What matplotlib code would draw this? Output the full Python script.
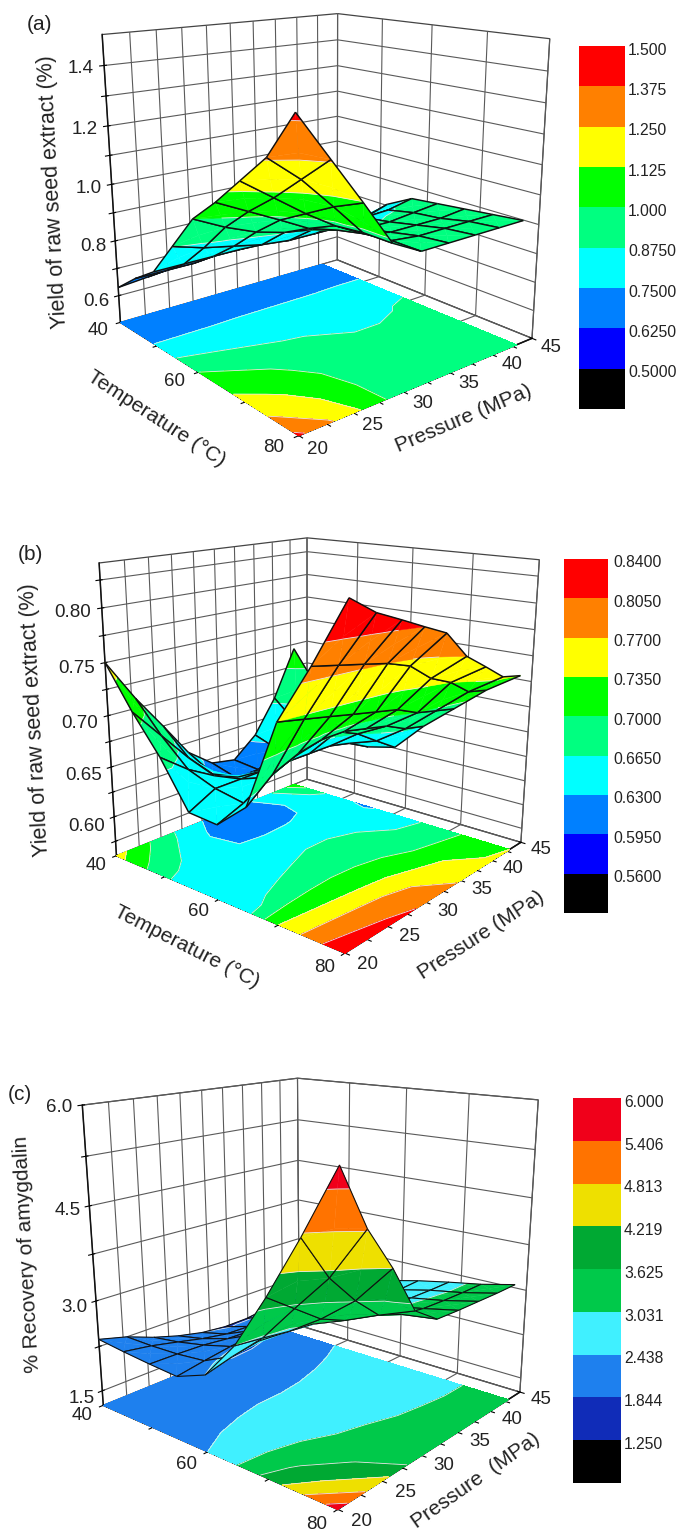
import numpy as np
import matplotlib
matplotlib.use('Agg')
import matplotlib.pyplot as plt
from mpl_toolkits.mplot3d import Axes3D
from mpl_toolkits.mplot3d.art3d import Poly3DCollection, Line3DCollection

plt.rcParams['font.family'] = ['Liberation Sans', 'DejaVu Sans']

temperature = [40, 45, 50, 55, 60, 65, 70, 75, 80]
pressure = [20, 22.9, 25.8, 28.6, 31.5, 34.4, 37.3, 40.1, 43]

# rows are temperature, columns are pressure
yield_a = [
    [0.63, 0.64, 0.65, 0.66, 0.67, 0.68, 0.69, 0.70, 0.70],
    [0.70, 0.70, 0.70, 0.71, 0.71, 0.71, 0.71, 0.72, 0.72],
    [0.76, 0.76, 0.76, 0.76, 0.76, 0.76, 0.76, 0.76, 0.76],
    [0.88, 0.85, 0.83, 0.81, 0.80, 0.80, 0.80, 0.81, 0.84],
    [1.00, 0.95, 0.91, 0.885, 0.87, 0.865, 0.865, 0.87, 0.89],
    [1.08, 1.03, 0.98, 0.93, 0.90, 0.88, 0.88, 0.89, 0.90],
    [1.17, 1.10, 1.03, 0.97, 0.92, 0.90, 0.90, 0.90, 0.91],
    [1.26, 1.18, 1.08, 0.98, 0.93, 0.92, 0.92, 0.92, 0.92],
    [1.40, 1.26, 1.12, 0.98, 0.93, 0.93, 0.93, 0.93, 0.93],
]
yield_b = [
    [0.750, 0.710, 0.675, 0.640, 0.620, 0.615, 0.635, 0.670, 0.720],
    [0.710, 0.680, 0.650, 0.625, 0.612, 0.612, 0.625, 0.645, 0.680],
    [0.675, 0.655, 0.640, 0.630, 0.628, 0.629, 0.632, 0.635, 0.632],
    [0.632, 0.645, 0.645, 0.645, 0.645, 0.645, 0.645, 0.640, 0.628],
    [0.630, 0.640, 0.655, 0.665, 0.675, 0.675, 0.665, 0.650, 0.635],
    [0.655, 0.675, 0.685, 0.690, 0.690, 0.685, 0.680, 0.670, 0.665],
    [0.735, 0.730, 0.725, 0.720, 0.715, 0.710, 0.700, 0.695, 0.690],
    [0.785, 0.780, 0.775, 0.770, 0.762, 0.745, 0.735, 0.720, 0.715],
    [0.840, 0.825, 0.815, 0.805, 0.795, 0.770, 0.755, 0.740, 0.735],
]
recovery_c = [
    [2.37, 2.25, 2.08, 1.95, 1.85, 1.80, 1.80, 1.85, 1.95],
    [2.32, 2.25, 2.15, 2.05, 1.97, 1.95, 2.00, 2.08, 2.20],
    [2.28, 2.27, 2.25, 2.20, 2.18, 2.20, 2.28, 2.36, 2.44],
    [2.25, 2.32, 2.38, 2.42, 2.42, 2.45, 2.50, 2.55, 2.60],
    [2.44, 2.55, 2.62, 2.66, 2.68, 2.70, 2.72, 2.74, 2.76],
    [3.03, 2.98, 2.92, 2.88, 2.86, 2.85, 2.85, 2.86, 2.88],
    [3.85, 3.55, 3.25, 3.08, 3.03, 3.00, 2.99, 2.98, 2.98],
    [4.75, 4.10, 3.65, 3.30, 3.16, 3.10, 3.08, 3.07, 3.07],
    [5.72, 4.85, 4.22, 3.50, 3.23, 3.21, 3.20, 3.19, 3.19],
]

levels_a = [0.5, 0.625, 0.75, 0.875, 1.0, 1.125, 1.25, 1.375, 1.5]
levels_b = [0.56, 0.595, 0.63, 0.665, 0.70, 0.735, 0.77, 0.805, 0.84]
levels_c = [1.25, 1.844, 2.438, 3.031, 3.625, 4.219, 4.813, 5.406, 6.0]

bar_labels_a = ['1.500', '1.375', '1.250', '1.125', '1.000', '0.8750', '0.7500', '0.6250', '0.5000']
bar_labels_b = ['0.8400', '0.8050', '0.7700', '0.7350', '0.7000', '0.6650', '0.6300', '0.5950', '0.5600']
bar_labels_c = ['6.000', '5.406', '4.813', '4.219', '3.625', '3.031', '2.438', '1.844', '1.250']

# low to high, first one is the black box below the lowest level
colors_ab = ['#000000', '#0000ff', '#0080ff', '#00ffff', '#00ff80', '#00ff00', '#ffff00', '#ff8000', '#ff0000']
colors_c = ['#000000', '#102cb8', '#1e80ee', '#40f0ff', '#00c94a', '#00a933', '#eee000', '#ff7300', '#f0001a']

ztick_a = [0.6, 0.7, 0.8, 0.9, 1.0, 1.1, 1.2, 1.3, 1.4]
ztext_a = ['0.6', '', '0.8', '', '1.0', '', '1.2', '', '1.4']
ztick_b = [0.575, 0.6, 0.625, 0.65, 0.675, 0.7, 0.725, 0.75, 0.775, 0.8, 0.825]
ztext_b = ['', '0.60', '', '0.65', '', '0.70', '', '0.75', '', '0.80', '']
ztick_c = [1.5, 2.25, 3.0, 3.75, 4.5, 5.25, 6.0]
ztext_c = ['1.5', '', '3.0', '', '4.5', '', '6.0']

xtick = [40, 50, 60, 70, 80]
xtext = ['40', '', '60', '', '80']
ytick = [20, 22.5, 25, 27.5, 30, 32.5, 35, 37.5, 40, 42.5, 45]
ytext = ['20', '', '25', '', '30', '', '35', '', '40', '', '45']

W, H = 676, 1531
fig = plt.figure(figsize=(W / 100, H / 100), dpi=100)


def clip_z(verts, level, above):
    # keep the part of a polygon above or below one z level
    out = []
    for i in range(len(verts)):
        p, q = verts[i], verts[(i + 1) % len(verts)]
        pin = p[2] >= level if above else p[2] <= level
        qin = q[2] >= level if above else q[2] <= level
        if pin:
            out.append(p)
        if pin != qin:
            f = (level - p[2]) / (q[2] - p[2])
            out.append(tuple(p[k] + f * (q[k] - p[k]) for k in range(3)))
    return out


def level_segment(tri, level):
    pts = []
    for i in range(3):
        p, q = tri[i], tri[(i + 1) % 3]
        if (p[2] - level) * (q[2] - level) < 0:
            f = (level - p[2]) / (q[2] - p[2])
            pts.append(tuple(p[k] + f * (q[k] - p[k]) for k in range(3)))
    return pts if len(pts) == 2 else None


def band_surface(ax, T, P, Z, levels, colors, mesh_lw):
    # one set of artists per mesh cell, far cells first, so the mesh lines hide properly
    M = ax.get_proj()
    cells = []
    for i in range(len(T) - 1):
        for j in range(len(P) - 1):
            quad = [(T[i], P[j], Z[i, j]), (T[i + 1], P[j], Z[i + 1, j]),
                    (T[i + 1], P[j + 1], Z[i + 1, j + 1]), (T[i], P[j + 1], Z[i, j + 1])]
            c = tuple(np.mean(quad, axis=0))
            h = M @ np.array([c[0], c[1], c[2], 1.0])
            cells.append((h[2] / h[3], quad, c))
    cells.sort(key=lambda cell: -cell[0])
    for rank, (_, quad, c) in enumerate(cells):
        polys, fcs, segs = [], [], []
        for k in range(4):
            tri = [quad[k], quad[(k + 1) % 4], c]
            for b in range(len(levels) - 1):
                part = clip_z(clip_z(tri, levels[b], True), levels[b + 1], False)
                if len(part) >= 3:
                    polys.append(part)
                    fcs.append(colors[b + 1])
            for lev in levels:
                seg = level_segment(tri, lev)
                if seg:
                    segs.append(seg)
        zo = 10 + 3 * rank
        ax.add_collection3d(Poly3DCollection(polys, facecolors=fcs, edgecolors=fcs,
                                             linewidths=0.3, zorder=zo), autolim=False)
        if segs:
            ax.add_collection3d(Line3DCollection(segs, colors='#e8e8e8', linewidths=0.6,
                                                 zorder=zo + 1), autolim=False)
        outline = [[quad[k], quad[(k + 1) % 4]] for k in range(4)]
        ax.add_collection3d(Line3DCollection(outline, colors='#101010', linewidths=mesh_lw,
                                             zorder=zo + 2), autolim=False)


def tick_text(ax, x, y, z, s):
    # tick labels sit closer to the axes than the native ones can
    if not s:
        return
    h = ax.get_proj() @ np.array([x, y, z, 1.0])
    ax.text2D(h[0] / h[3], h[1] / h[3], s, ha='center', va='center', fontsize=13.5,
              color='#222222', zorder=2000)


def panel(Z, levels, colors, zlim, zticks, ztext, view, aspect, box, ztick_p, mesh_lw=1.05):
    elev, azim, roll, focal = view
    left, bottom, width = box
    ax = fig.add_axes([left / W, bottom / H, width / W, width / H], projection='3d',
                      computed_zorder=False)
    ax.patch.set_visible(False)
    ax.set_proj_type('persp', focal_length=focal)
    ax.view_init(elev=elev, azim=azim, roll=roll)
    ax.set_box_aspect(aspect)
    ax.set_xlim(40, 80)
    ax.set_ylim(20, 45)
    ax.set_zlim(*zlim)

    ax.set_xticks(xtick)
    ax.set_yticks(ytick)
    ax.set_zticks(zticks)
    ax.set_xticklabels([])
    ax.set_yticklabels([])
    ax.set_zticklabels([])
    ax.zaxis.set_ticks_position('lower')

    zdrop = zlim[0] - 0.005 * (zlim[1] - zlim[0])
    for t, s in zip(xtick, xtext):
        tick_text(ax, t, 17.8, zdrop, s)
    for p, s in zip(ytick, ytext):
        tick_text(ax, 83.2, p, zdrop, s)
    for z, s in zip(zticks, ztext):
        tick_text(ax, 40, ztick_p, z, s)

    for axis in (ax.xaxis, ax.yaxis, ax.zaxis):
        axis.set_pane_color((1, 1, 1, 1))
        axis.pane.set_edgecolor('#444444')
        axis.pane.set_linewidth(0.9)
        axis.line.set_color('#111111')
        axis.line.set_linewidth(1.1)
        axis._axinfo['grid']['color'] = '#5a5a5a'
        axis._axinfo['grid']['linewidth'] = 0.8

    T = np.array(temperature, float)
    P = np.array(pressure, float)
    Z = np.array(Z, float)
    PP, TT = np.meshgrid(P, T)
    ax.contourf(TT, PP, Z, levels=levels, colors=colors[1:], zdir='z', offset=zlim[0], zorder=1)
    ax.contour(TT, PP, Z, levels=levels, colors='#e8e8e8', linewidths=0.6, zdir='z',
               offset=zlim[0], zorder=2)
    band_surface(ax, T, P, Z, levels, colors, mesh_lw)
    return ax


def colorbar(colors, labels, x0, x1, y0, y1, text_x):
    cax = fig.add_axes([x0 / W, 1 - y1 / H, (x1 - x0) / W, (y1 - y0) / H])
    n = len(colors)
    cax.bar(np.zeros(n), np.ones(n), bottom=np.arange(n), width=1, color=colors, align='edge')
    cax.set_xlim(0, 1)
    cax.set_ylim(0, n)
    cax.axis('off')
    for i, lab in enumerate(labels):
        cax.text((text_x - x0) / (x1 - x0), n - i - 0.1, lab, fontsize=11.3, color='#222222',
                 va='center', ha='left', clip_on=False)


panel(yield_a, levels_a, colors_ab, (0.5, 1.5), ztick_a, ztext_a,
      (15.83, -39.45, 0.20, 0.358), (1, 0.988, 0.994), (58.4, 1078.4, 512.3), 17.9)
panel(yield_b, levels_b, colors_ab, (0.56, 0.84), ztick_b, ztext_b,
      (16.08, -50.20, -0.25, 0.359), (1, 0.999, 0.998), (64.7, 561.6, 502.8), 17.2)
panel(recovery_c, levels_c, colors_c, (1.25, 6.0), ztick_c, ztext_c,
      (16.48, -49.48, 0.14, 0.346), (1, 0.982, 0.990), (47.9, 7.5, 518.6), 17.9, mesh_lw=0.8)

colorbar(colors_ab, bar_labels_a, 578.5, 624.5, 46, 409, 628)
colorbar(colors_ab, bar_labels_b, 564, 608, 559, 913, 613)
colorbar(colors_c, bar_labels_c, 572.5, 621, 1098, 1483, 624)


def label(x, y, s, rot, size=15.5):
    fig.text(x / W, 1 - y / H, s, rotation=rot, rotation_mode='anchor', ha='center', va='center',
             fontsize=size, color='#222222')


label(40, 25, '(a)', 0, 15)
label(30, 555, '(b)', 0, 15)
label(20, 1095, '(c)', 0, 15)
label(53, 192, 'Yield of raw seed extract (%)', 93)
label(156, 419, 'Temperature (°C)', -33, 15)
label(464, 419, 'Pressure (MPa)', 23, 15)
label(35, 720, 'Yield of raw seed extract (%)', 93)
label(187, 947, 'Temperature (°C)', -27, 15)
label(481, 935, 'Pressure (MPa)', 33, 15)
label(27, 1254, '% Recovery of amygdalin', 93, 15)
label(476, 1481, 'Pressure  (MPa)', 35, 15)

fig.savefig('out.png', dpi=100)
